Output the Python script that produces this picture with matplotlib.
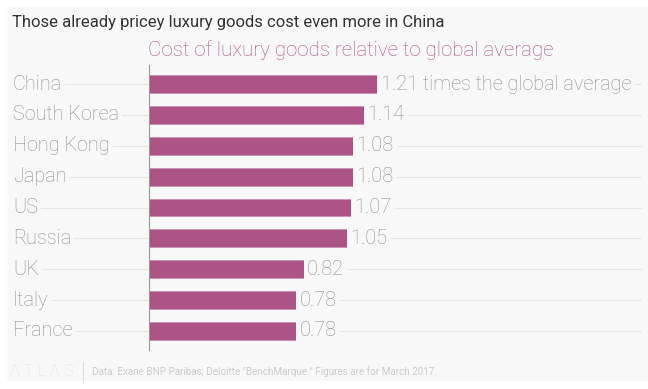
import matplotlib.pyplot as plt
from matplotlib.patches import Rectangle

countries = ['China', 'South Korea', 'Hong Kong', 'Japan', 'US', 'Russia', 'UK', 'Italy', 'France']
values = [1.21, 1.14, 1.08, 1.08, 1.07, 1.05, 0.82, 0.78, 0.78]
value_labels = ['1.21 times the global average', '1.14', '1.08', '1.08', '1.07', '1.05', '0.82', '0.78', '0.78']

bg = '#f8f8f8'
bar_color = '#ab5485'
text_gray = '#909090'

plt.rcParams['font.family'] = ['Roboto', 'DejaVu Sans']

fig = plt.figure(figsize=(6.48, 3.89), dpi=100, facecolor='white')

# light panel behind everything
fig.patches.append(Rectangle((7 / 648, 1 - 381 / 389), 641 / 648, 374 / 389,
                             transform=fig.transFigure, facecolor=bg,
                             edgecolor='none', zorder=-10))

ax = fig.add_axes([149 / 648, 1 - 349.5 / 389, 492 / 648, 284 / 389])
ax.set_facecolor('none')

y = list(range(len(countries)))
ax.barh(y, values, height=0.58, color=bar_color, edgecolor='#c98fb0', linewidth=0.6, zorder=3)

ax.set_xlim(0, 2.6)
ax.set_ylim(len(countries) - 0.4, -0.6)

# gridlines across the panel, interrupted by labels
for yi in y:
    ax.plot([-0.715, 2.6], [yi, yi], color='#e6e6e6', linewidth=0.8, zorder=1, clip_on=False)

for yi, name in zip(y, countries):
    ax.text(-0.72, yi, name, ha='left', va='center', fontsize=14.3, color=text_gray,
            fontweight='light', zorder=2,
            bbox=dict(facecolor=bg, edgecolor='none', pad=2.5))

for yi, v, lab in zip(y, values, value_labels):
    ax.text(v + 0.015, yi, lab, ha='left', va='center', fontsize=14.3, color=text_gray,
            fontweight='light', zorder=4,
            bbox=dict(facecolor=bg, edgecolor='none', pad=2.5))

for s in ['top', 'right', 'bottom']:
    ax.spines[s].set_visible(False)
ax.spines['left'].set_color('#999999')
ax.spines['left'].set_linewidth(0.8)
ax.spines['left'].set_zorder(5)
ax.set_xticks([])
ax.set_yticks([])

fig.text(12 / 648, 1 - 22 / 389, 'Those already pricey luxury goods cost even more in China',
         fontsize=12, color='#333333', ha='left', va='center')
fig.text(148 / 648, 1 - 50 / 389, 'Cost of luxury goods relative to global average',
         fontsize=14.8, color='#b04f86', ha='left', va='center', fontweight='light')

fig.text(10 / 648, 1 - 372 / 389, 'Λ T L Λ S', fontsize=11.5, color='#dddddd',
         ha='left', va='center', fontweight='light')
fig.add_artist(plt.Line2D([83 / 648, 83 / 648], [1 - 362 / 389, 1 - 381 / 389],
                          transform=fig.transFigure, color='#dddddd', linewidth=0.8))
fig.text(92 / 648, 1 - 372 / 389,
         'Data: Exane BNP Paribas; Deloitte "BenchMarque." Figures are for March 2017.',
         fontsize=7.1, color='#cccccc', ha='left', va='center')

fig.savefig('out.png', dpi=100, facecolor='white')
